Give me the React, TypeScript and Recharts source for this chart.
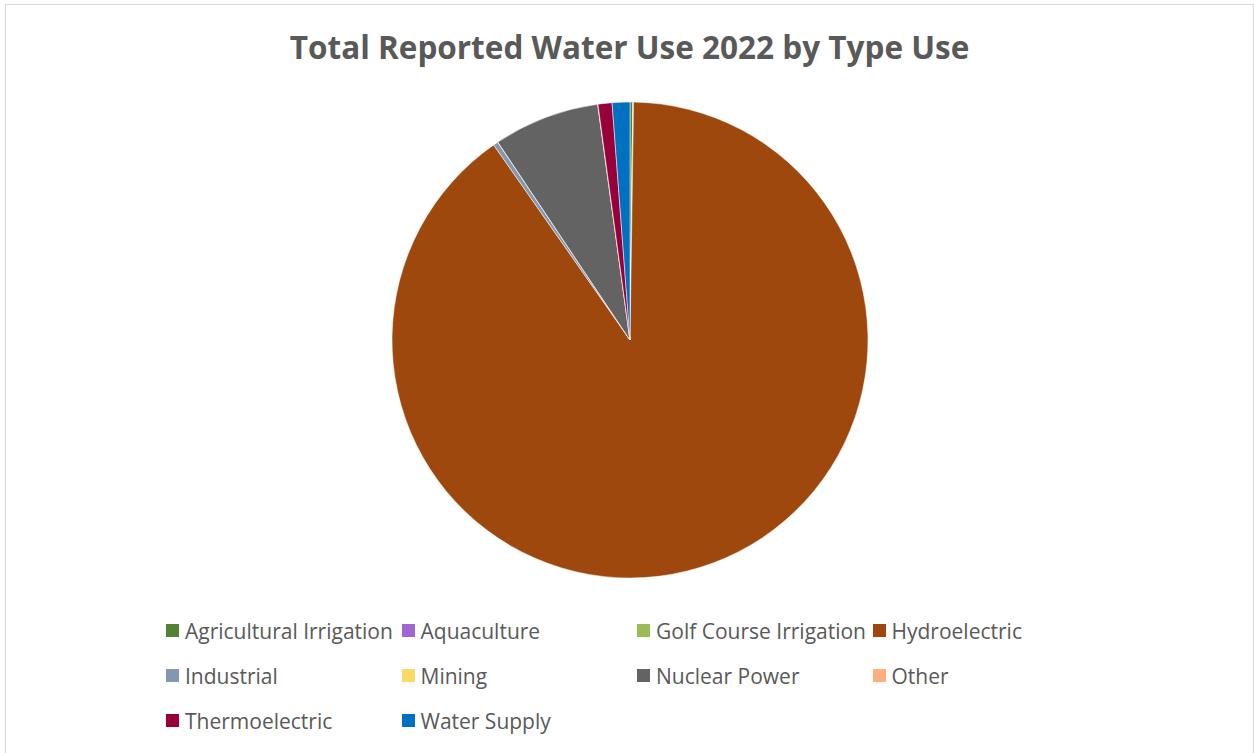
import { Cell, Legend, Pie, PieChart } from "recharts";

const USE_TYPES = [
  "Agricultural Irrigation",
  "Aquaculture",
  "Golf Course Irrigation",
  "Hydroelectric",
  "Industrial",
  "Mining",
  "Nuclear Power",
  "Other",
  "Thermoelectric",
  "Water Supply",
];
// share of total reported use, percent
const SHARE = [0.19, 0.01, 0.04, 90.05, 0.33, 0.01, 7.2, 0.02, 0.95, 1.2];
const COLORS = ["#548235", "#a266d2", "#9bbb59", "#9e480e", "#8497b0", "#ffd966", "#636363", "#ffae80", "#99003a", "#0070c0"];

const data = USE_TYPES.map((name, i) => ({ name, value: SHARE[i] }));

const FONT = "'Open Sans', 'Liberation Sans', sans-serif";
const TEXT = "#595959";

function LegendGrid({ payload }: any) {
  return (
    <div style={{ display: "grid", gridTemplateColumns: "repeat(4, 235.5px)", rowGap: 20, fontFamily: FONT }}>
      {(payload ?? []).map((p: any) => (
        <div key={p.value} style={{ display: "flex", alignItems: "center", height: 25, whiteSpace: "nowrap" }}>
          <span style={{ width: 13, height: 13, background: p.color, marginRight: 6, flex: "none" }} />
          <span style={{ fontSize: 21, color: TEXT }}>{p.value}</span>
        </div>
      ))}
    </div>
  );
}

export default function App() {
  return (
    <div style={{ position: "absolute", left: 0, top: 0, width: 1254, height: 753, background: "#fff", overflow: "hidden" }}>
      <div style={{ position: "absolute", left: 5, top: 4, width: 1247, height: 760, border: "1px solid #d9d9d9" }} />
      <div
        style={{
          position: "absolute",
          top: 25,
          width: 1259,
          textAlign: "center",
          fontFamily: FONT,
          fontWeight: 700,
          fontSize: 31.5,
          color: TEXT,
        }}
      >
        Total Reported Water Use 2022 by Type Use
      </div>
      <PieChart
        width={1254}
        height={753}
        margin={{ top: 0, right: 0, bottom: 0, left: 0 }}
        style={{ position: "absolute", left: 0, top: 0 }}
      >
        <Pie
          data={data}
          dataKey="value"
          nameKey="name"
          cx={630}
          cy={340}
          outerRadius={238}
          startAngle={90}
          endAngle={-270}
          stroke="#ffffff"
          strokeWidth={0.5}
          isAnimationActive={false}
        >
          {data.map((_, i) => (
            <Cell key={i} fill={COLORS[i]} />
          ))}
        </Pie>
        <Legend
          content={<LegendGrid />}
          wrapperStyle={{ position: "absolute", left: 166, top: 618, width: 960 }}
        />
      </PieChart>
    </div>
  );
}
